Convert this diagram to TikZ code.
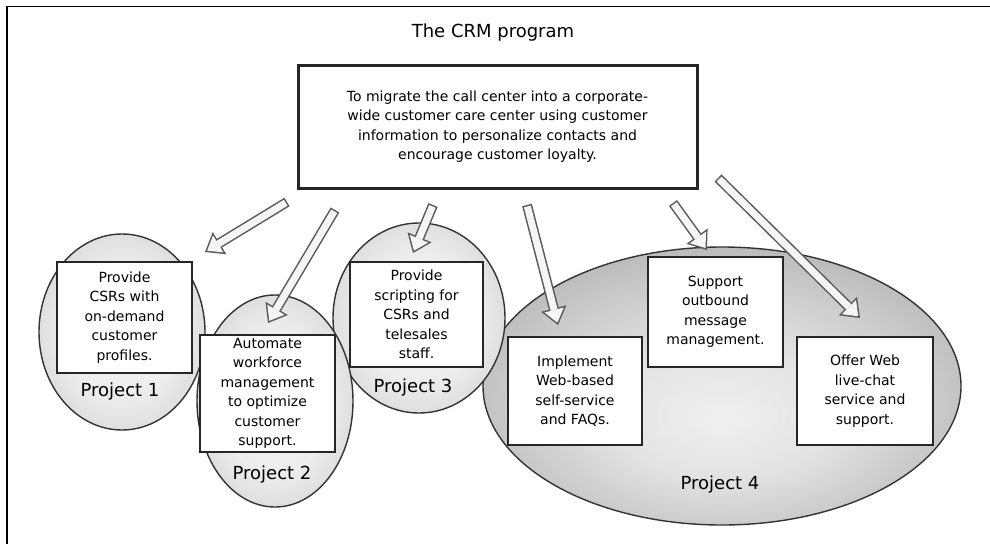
\documentclass[tikz,border=0pt]{standalone}
\usepackage{fontspec}
\setmainfont{DejaVu Sans}
\usetikzlibrary{shapes.geometric,arrows.meta}
\pgfdeclareradialshading{pencil}{\pgfpoint{0bp}{0bp}}{color(0bp)=(gray!10); color(17bp)=(gray!14); color(27bp)=(gray!28); color(35bp)=(gray!50); color(50bp)=(gray!55)}
\pgfdeclareradialshading{pencildark}{\pgfpoint{0bp}{-6bp}}{color(0bp)=(gray!12); color(12bp)=(gray!22); color(24bp)=(gray!45); color(34bp)=(gray!68); color(50bp)=(gray!72)}
\tikzset{
    oval/.style={ellipse, draw=black!80, line width=1.4pt, inner sep=0pt, shading=pencil},
    task/.style={rectangle, draw=black!85, line width=1.5pt, fill=white, align=center, inner sep=2pt, font=\fontsize{14}{19.5}\selectfont},
    tag/.style={font=\fontsize{18}{21}\selectfont},
    hollow/.style={draw=black!65, line width=10pt, -{Triangle[length=17pt,width=26pt,line width=0pt]},
        postaction={draw=gray!8, line width=7pt, shorten <=1.5pt, shorten >=2.5pt, -{Triangle[length=13pt,width=20pt,line width=0pt]}}}
}
\begin{document}
\begin{tikzpicture}[x=1pt,y=-1pt]
        \useasboundingbox (0,0) rectangle (990,544);
        \draw[line width=1.3pt] (7,544) -- (7,6.5) -- (990,6.5);
        \node[tag] (title) at (493,33) {The CRM program};
        \node[task, line width=3pt, minimum width=399pt, minimum height=123pt] (goal) at (497.5,126.5) {To migrate the call center into a corporate-\\wide customer care center using customer\\information to personalize contacts and\\encourage customer loyalty.};

        \node[oval, shading=pencildark, minimum width=478pt, minimum height=278pt] (p4) at (722,386) {};
        \node[oval, minimum width=172pt, minimum height=190pt] (p3) at (419,318) {};
        \node[oval, minimum width=166pt, minimum height=196pt] (p1) at (122,332) {};
        \node[oval, minimum width=156pt, minimum height=212pt] (p2) at (275,401) {};

        \node[task, minimum width=135pt, minimum height=111pt] (b1) at (124.5,317.5) {Provide\\CSRs with\\on-demand\\customer\\profiles.};
        \node[task, minimum width=135pt, minimum height=117pt] (b2) at (267.5,393.5) {Automate\\workforce\\management\\to optimize\\customer\\support.};
        \node[task, minimum width=133pt, minimum height=105pt] (b3) at (416.5,314.5) {Provide\\scripting for\\CSRs and\\telesales\\staff.};
        \node[task, minimum width=134pt, minimum height=108pt] (b4) at (575,391) {Implement\\Web-based\\self-service\\and FAQs.};
        \node[task, minimum width=135pt, minimum height=110pt] (b5) at (715.5,312) {Support\\outbound\\message\\management.};
        \node[task, minimum width=136pt, minimum height=108pt] (b6) at (865,391) {Offer Web\\live-chat\\service and\\support.};

        \node[tag] (l1) at (120,392) {Project 1};
        \node[tag] (l2) at (272,475) {Project 2};
        \node[tag] (l3) at (413,388) {Project 3};
        \node[tag] (l4) at (720,485) {Project 4};

        \coordinate (s1) at (287,202);
        \coordinate (e1) at (205,252);
        \coordinate (s2) at (335,210);
        \coordinate (e2) at (268,323);
        \coordinate (s3) at (433,205);
        \coordinate (e3) at (413,253);
        \coordinate (s4) at (527,205);
        \coordinate (e4) at (558,325);
        \coordinate (s5) at (673,203);
        \coordinate (e5) at (707,250);
        \coordinate (s6) at (718,178);
        \coordinate (e6) at (860,318);

        \path[hollow] (s1) -- (e1);
        \path[hollow] (s2) -- (e2);
        \path[hollow] (s3) -- (e3);
        \path[hollow] (s4) -- (e4);
        \path[hollow] (s5) -- (e5);
        \path[hollow] (s6) -- (e6);
\end{tikzpicture}
\end{document}
